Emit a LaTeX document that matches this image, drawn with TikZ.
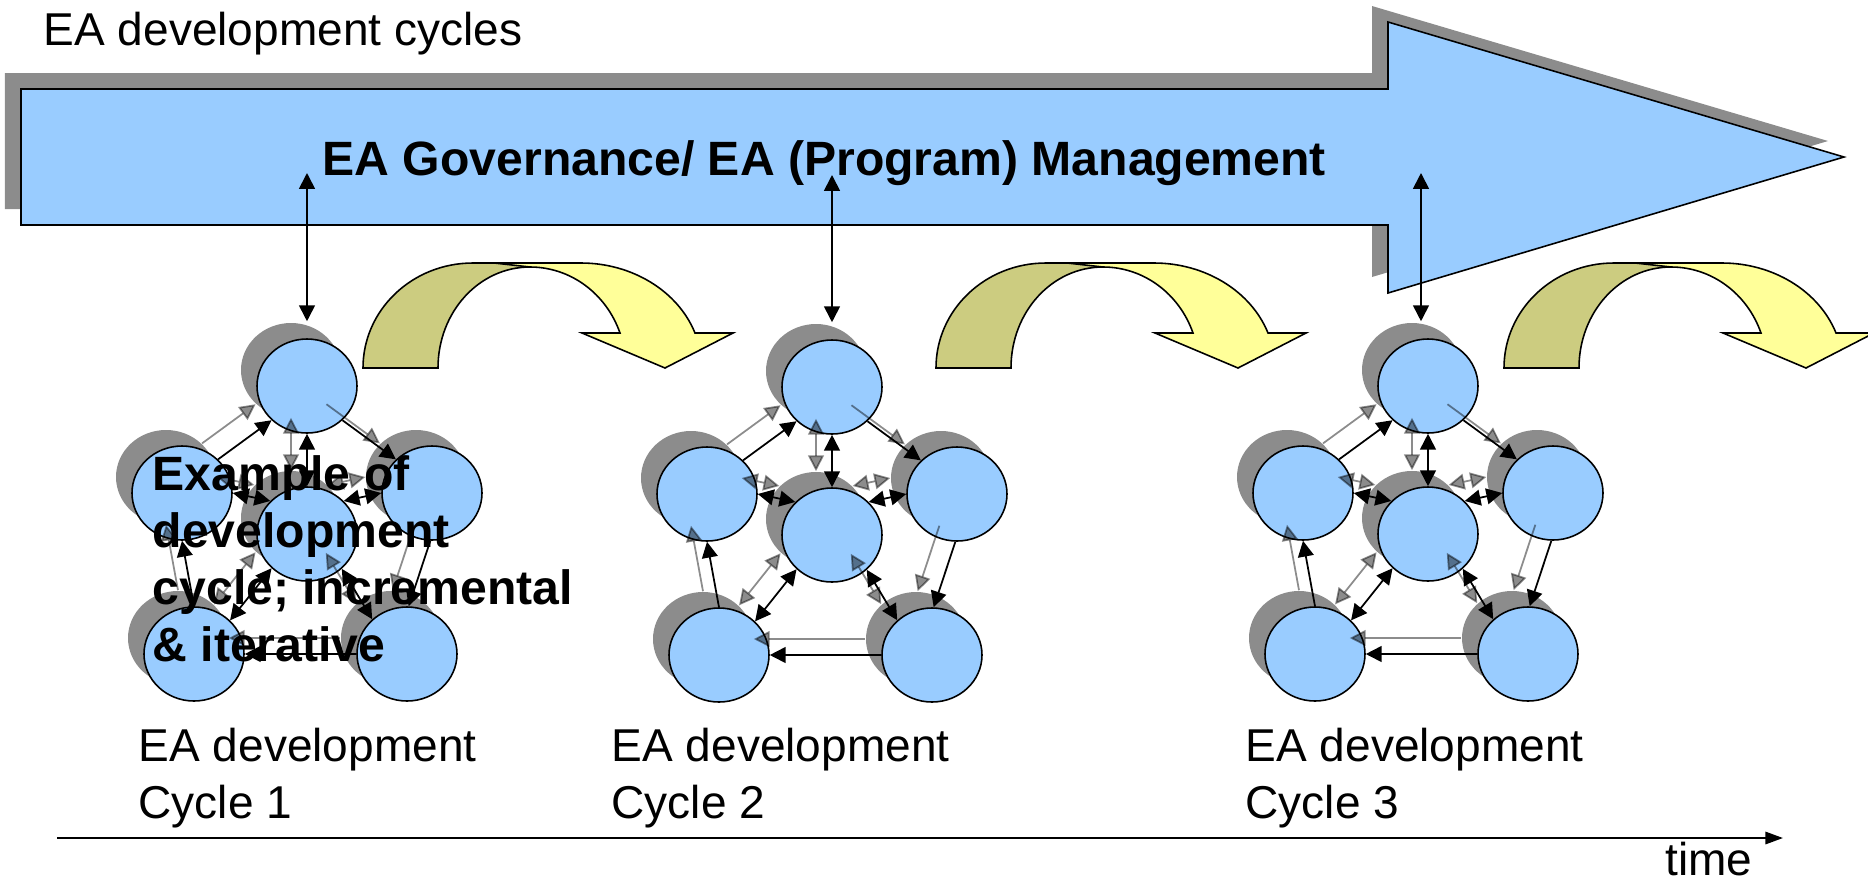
\documentclass[tikz,border=0pt]{standalone}
\usepackage{fontspec}
\setmainfont{Liberation Sans}
\usetikzlibrary{arrows.meta,shapes.geometric,shadows}

\definecolor{eablue}{RGB}{153,204,255}
\definecolor{shadowgray}{RGB}{140,140,140}
\definecolor{lightyellow}{RGB}{255,255,153}
\definecolor{oliveback}{RGB}{204,204,128}

\tikzset{
  ball/.style={ellipse, draw, line width=0.45pt, fill=eablue, minimum width=1cm,
    minimum height=0.94cm, inner sep=0pt,
    drop shadow={shadow xshift=-1.6mm, shadow yshift=1.6mm, fill=black, opacity=0.45}},
  flow/.style={-{Triangle[length=4.5pt,width=4.5pt]}, line width=0.5pt},
  twoway/.style={{Triangle[length=4.5pt,width=4.5pt]}-{Triangle[length=4.5pt,width=4.5pt]}, line width=0.5pt},
  ghost/.style={transform canvas={xshift=-1.6mm,yshift=1.6mm}, black, opacity=0.45},
  plaintext/.style={font=\fontsize{13.1}{16.2}\selectfont, inner sep=0pt, anchor=base west, align=left},
  boldtext/.style={font=\bfseries\fontsize{13.7}{16.2}\selectfont, inner sep=0pt, anchor=base west, align=left}
}

% links inside one development cycle
\newcommand{\linkset}[1]{%
  \draw[flow] (#1-l.43) -- (#1-t.224);
  \draw[flow] (#1-t.316) -- (#1-r.137);
  \draw[flow] (#1-r.268) -- (#1-br.88);
  \draw[flow] (#1-br.180) -- (#1-bl.0);
  \draw[flow] (#1-bl.90) -- (#1-l.270);
  \draw[twoway] (#1-t.270) -- (#1-c.90);
  \draw[twoway] (#1-l.0) -- (#1-c.138);
  \draw[twoway] (#1-r.180) -- (#1-c.42);
  \draw[twoway] (#1-bl.43) -- (#1-c.224);
  \draw[twoway] (#1-br.135) -- (#1-c.315);
}

% curved arrow between cycles, #1 = outer foot
\newcommand{\bendarrow}[1]{%
  \begin{scope}[shift={#1}]
    \filldraw[fill=oliveback, line width=0.45pt] (0,0) .. controls (0,-58) and (49,-105) .. (110,-105)
      -- (170,-105) -- (167,-101) .. controls (116,-101) and (75,-56) .. (75,0) -- cycle;
    \filldraw[fill=lightyellow, line width=0.45pt] (131,-105) -- (218,-105)
      .. controls (269,-105) and (315,-77) .. (332,-35) -- (370,-35) -- (302,0) -- (219,-35)
      -- (257,-35) .. controls (243,-75) and (207,-101) .. (167,-101) -- cycle;
  \end{scope}}

\begin{document}
\begin{tikzpicture}[x=0.1mm, y=-0.1mm]
  \useasboundingbox (0,0) rectangle (1868,882);

  \node[plaintext] (title) at (43,45) {EA development cycles};

  % governance arrow
  \fill[shadowgray, shift={(-16,-16)}] (21,89) -- (1388,89) -- (1388,22) -- (1844,157)
    -- (1388,293) -- (1388,225) -- (21,225) -- cycle;
  \filldraw[fill=eablue, line width=0.45pt] (21,89) -- (1388,89) -- (1388,22) -- (1844,157)
    -- (1388,293) -- (1388,225) -- (21,225) -- cycle;
  \node[boldtext] (gov) at (322,175) {EA Governance/ EA (Program) Management};

  \bendarrow{(363,368)}
  \bendarrow{(936,368)}
  \bendarrow{(1504,368)}

  % the three cycles
  \foreach \cy/\cx/\ty in {a/307/386, b/832/387, c/1428/386} {
    \node[ball] (\cy-t) at (\cx,\ty) {};
    \node[ball] (\cy-l) at (\cx-125,\ty+107) {};
    \node[ball] (\cy-r) at (\cx+125,\ty+107) {};
    \node[ball] (\cy-c) at (\cx,\ty+148) {};
    \node[ball] (\cy-bl) at (\cx-113,\ty+268) {};
    \node[ball] (\cy-br) at (\cx+100,\ty+268) {};
    \begin{scope}[ghost]
      \linkset{\cy}
    \end{scope}
    \linkset{\cy}
  }

  \coordinate (ga) at (307,173);
  \coordinate (gb) at (832,175);
  \coordinate (gc) at (1421,173);
  \draw[twoway, shorten >=1.7mm] (ga) -- (ga |- a-t.north);
  \draw[twoway, shorten >=1.7mm] (gb) -- (gb |- b-t.north);
  \draw[twoway, shorten >=1.7mm] (gc) -- (gc |- c-t.north);

  % multi-line nodes sit on the baseline of their last line
  \node[boldtext] (example) at (152,661) {Example of\\development\\cycle; incremental\\\& iterative};

  \node[plaintext] (lab1) at (138,818) {EA development\\Cycle 1};
  \node[plaintext] (lab2) at (611,818) {EA development\\Cycle 2};
  \node[plaintext] (lab3) at (1245,818) {EA development\\Cycle 3};

  % time axis
  \coordinate (t0) at (57,838);
  \coordinate (t1) at (1783,838);
  \draw[-{Triangle[length=5pt,width=3.5pt]}, line width=0.6pt] (t0) -- (t1);
  \node[plaintext, anchor=base east] (timelabel) at (1753,875) {time};
\end{tikzpicture}
\end{document}
